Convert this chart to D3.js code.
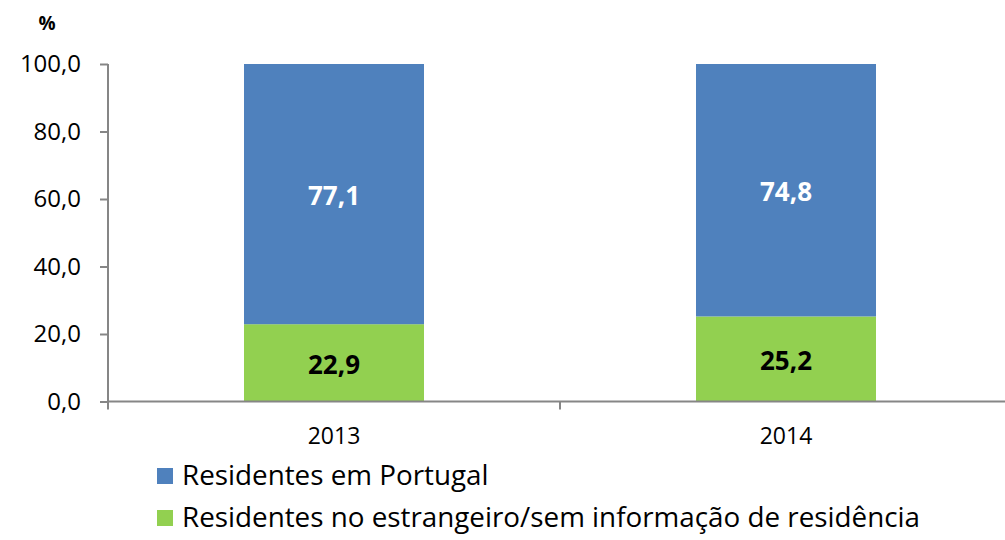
<!DOCTYPE html>
<html>
<head>
  <meta charset="utf-8">
  <title>Residentes</title>
</head>
<style>
  body, html { margin: 0; padding: 0; background: #fff; }
  text { font-family: "Open Sans", sans-serif; }
</style>
<body>
  <svg id="svg" width="1005" height="540"></svg>
  <script src="https://cdn.jsdelivr.net/npm/d3@7"></script>
  <script>
    // data
    const years = ['2013', '2014']
    const portugal = [77.1, 74.8]
    const estrangeiro = [22.9, 25.2]
    const seriesNames = ['Residentes em Portugal', 'Residentes no estrangeiro/sem informação de residência']
    const yTicks = [0, 20, 40, 60, 80, 100]

    const fmt = v => d3.format('.1f')(v).replace('.', ',')
    const svg = d3.select('#svg')

    const x = d3.scaleBand().domain(years).range([108, 1012]).paddingInner(0).paddingOuter(0)
    const y = d3.scaleLinear().domain([0, 100]).range([401.5, 64])
    const barW = 180

    // stacked rows: green at bottom, blue on top
    const rows = years.map((yr, i) => ({ year: yr, est: estrangeiro[i], pt: portugal[i] }))
    const stack = d3.stack().keys(['est', 'pt'])(rows)
    const colors = { est: '#92D050', pt: '#4F81BD' }
    const labelColors = { est: '#000', pt: '#fff' }

    stack.forEach(layer => {
      const g = svg.append('g')
      g.selectAll('rect').data(layer).join('rect')
        .attr('x', d => x(d.data.year) + x.bandwidth() / 2 - barW / 2)
        .attr('width', barW)
        .attr('y', d => y(d[1]))
        .attr('height', d => y(d[0]) - y(d[1]))
        .attr('fill', colors[layer.key])
      g.selectAll('text').data(layer).join('text')
        .attr('x', d => x(d.data.year) + x.bandwidth() / 2)
        .attr('y', d => (y(d[0]) + y(d[1])) / 2 + 2)
        .attr('dy', '0.35em')
        .attr('text-anchor', 'middle')
        .attr('font-size', 26)
        .attr('font-weight', 'bold')
        .attr('fill', labelColors[layer.key])
        .text(d => fmt(d.data[layer.key]))
    })

    // y axis
    const yAxis = svg.append('g').attr('transform', 'translate(108,0)')
      .call(d3.axisLeft(y).tickValues(yTicks).tickSize(8).tickPadding(19).tickFormat(fmt))
    yAxis.select('.domain').attr('stroke', '#868686').attr('stroke-width', 2).attr('d', 'M0,64V401.5')
    yAxis.selectAll('.tick line').attr('stroke', '#868686').attr('stroke-width', 2)
    yAxis.selectAll('.tick text').attr('font-size', 24).attr('fill', '#000')
      .style('font-family', '"Open Sans", sans-serif')

    // x axis
    const xAxisG = svg.append('g').attr('transform', 'translate(0,401.5)')
    xAxisG.append('line').attr('x1', 107).attr('x2', 1005).attr('stroke', '#868686').attr('stroke-width', 2)
    xAxisG.selectAll('line.tk').data([108].concat(years.map(d => x(d) + x.bandwidth())))
      .join('line').attr('class', 'tk')
      .attr('x1', d => d).attr('x2', d => d).attr('y1', 0).attr('y2', 8)
      .attr('stroke', '#868686').attr('stroke-width', 2)
    xAxisG.selectAll('text').data(years).join('text')
      .attr('x', d => x(d) + x.bandwidth() / 2)
      .attr('y', 34)
      .attr('dy', '0.35em')
      .attr('text-anchor', 'middle')
      .attr('font-size', 23)
      .text(d => d)

    // unit label
    svg.append('text').attr('x', 47).attr('y', 23).attr('dy', '0.35em')
      .attr('text-anchor', 'middle').attr('font-size', 19).attr('font-weight', 'bold').text('%')

    // legend
    const legend = svg.append('g')
    const legendRows = [{ name: seriesNames[0], c: colors.pt }, { name: seriesNames[1], c: colors.est }]
    legendRows.forEach((d, i) => {
      const cy = 476 + i * 42
      legend.append('rect').attr('x', 157).attr('y', cy - 8).attr('width', 16).attr('height', 16).attr('fill', d.c)
      legend.append('text').attr('x', 182).attr('y', cy - 1).attr('dy', '0.35em')
        .attr('font-size', 27.8).text(d.name)
    })
  </script>
</body>
</html>
